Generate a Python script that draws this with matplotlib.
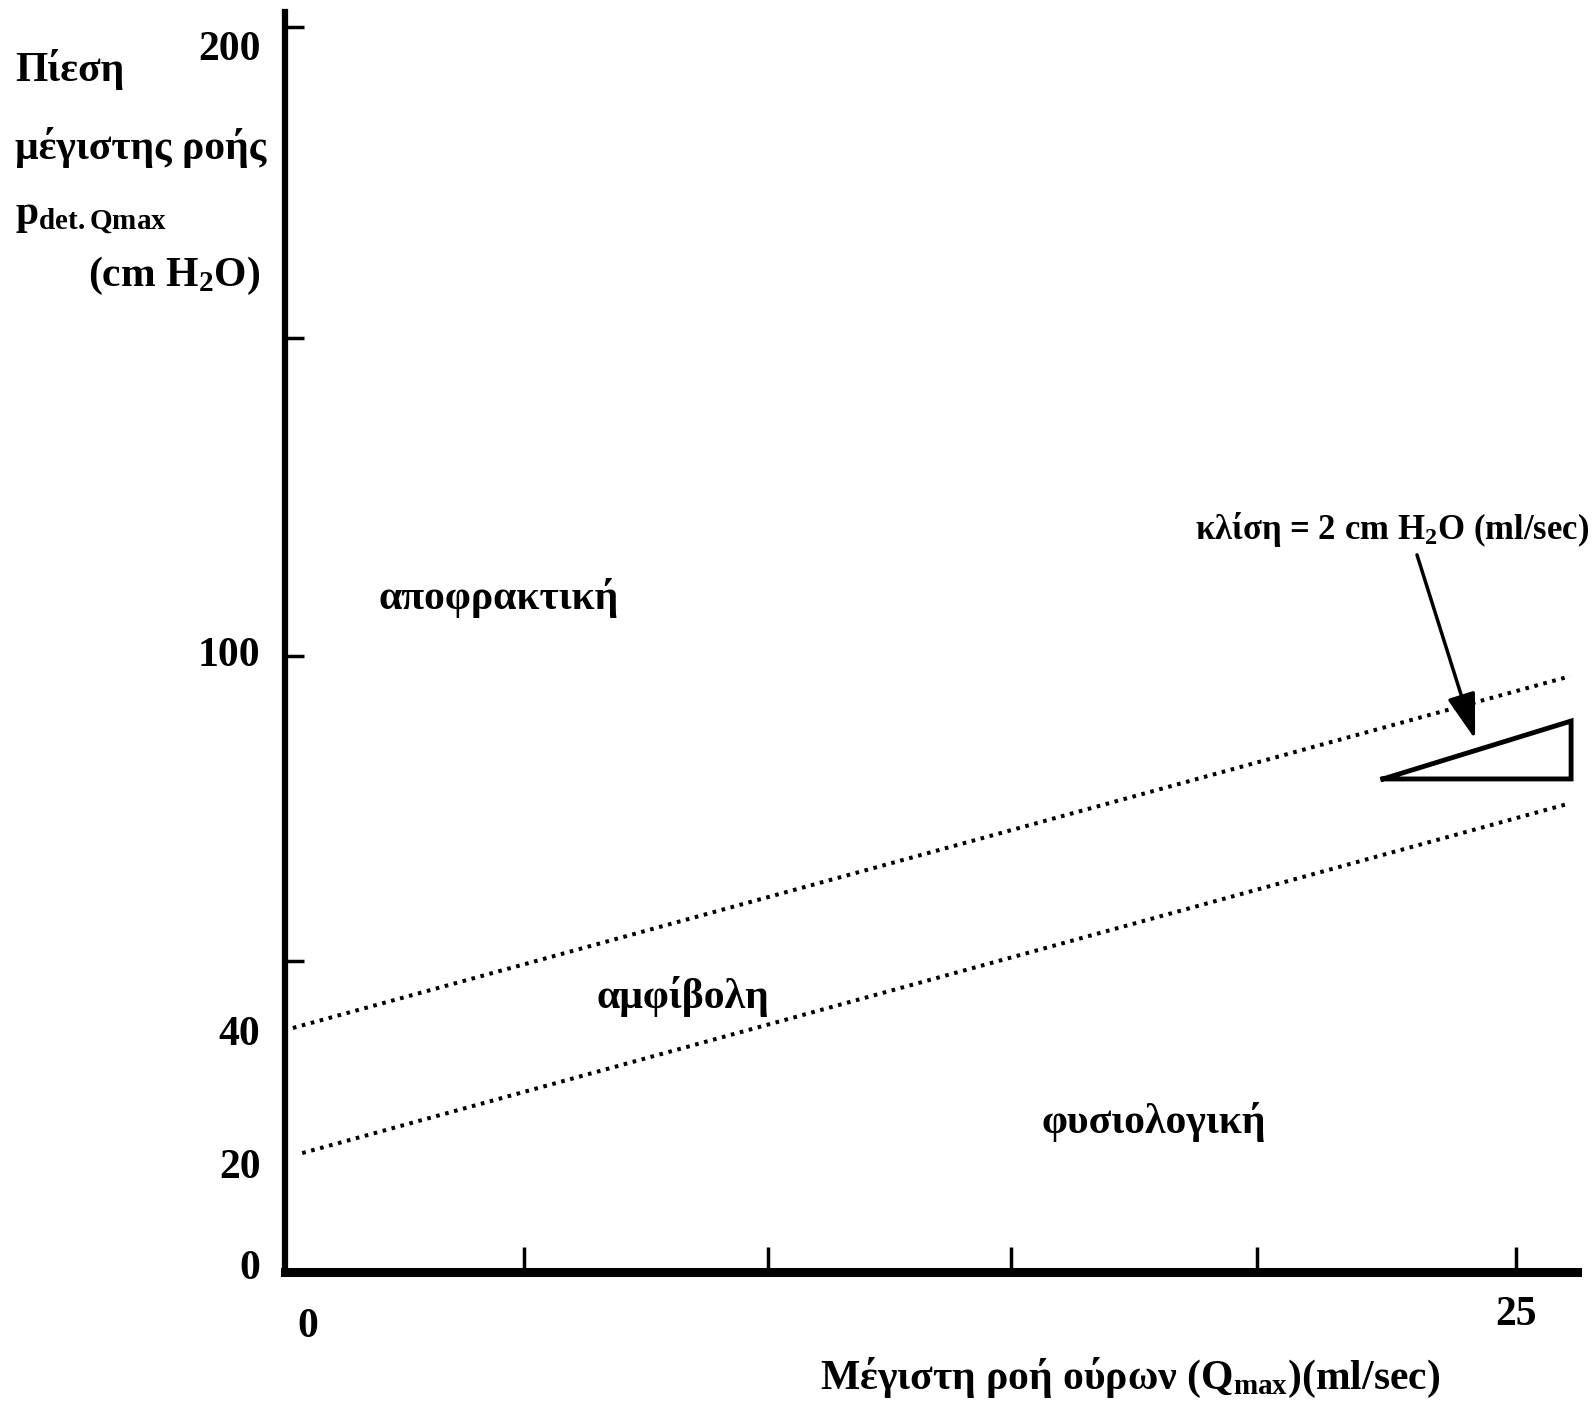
import matplotlib
matplotlib.use("Agg")
import matplotlib.pyplot as plt

plt.rcParams["font.family"] = ["Liberation Serif", "DejaVu Serif"]
plt.rcParams["font.weight"] = "bold"
plt.rcParams["mathtext.fontset"] = "custom"
plt.rcParams["mathtext.rm"] = "Liberation Serif:bold"
plt.rcParams["mathtext.it"] = "Liberation Serif:italic:bold"
plt.rcParams["mathtext.bf"] = "Liberation Serif:bold"

# nomogram boundaries (Qmax in ml/sec, pressure in cm H2O)
upper_x = [0.16, 26.1]
upper_y = [39.2, 95.7]
lower_x = [0.35, 26.1]
lower_y = [19.1, 75.3]

# slope triangle
tri_x = [22.3, 26.12, 26.12, 22.3]
tri_y = [79.2, 79.2, 88.5, 79.2]

x_ticks = [4.85, 9.8, 14.75, 19.75, 25]
y_ticks = [50, 99, 150, 200]

y_labels = ["200", "100", "40", "20", "0"]
y_label_pos = [196.3, 99.0, 38.0, 16.7, 0.5]
x_labels = ["0", "25"]
x_label_pos = [0.47, 25.0]
x_label_off = [-8.8, -6.9]

regions = ["αποφρακτική", "αμφίβολη", "φυσιολογική"]
region_x = [4.33, 8.08, 17.65]
region_y = [108.3, 44.2, 24.1]

W, H = 1595, 1414
fig = plt.figure(figsize=(W / 100, H / 100), dpi=100)
ax = fig.add_axes([285 / W, 142 / H, 1292 / W, 1260 / H])
ax.set_xlim(0, 26.24)
ax.set_ylim(0, 202.4)

for s in ["top", "right"]:
    ax.spines[s].set_visible(False)
ax.spines["bottom"].set_linewidth(6.5)
ax.spines["left"].set_linewidth(4.5)

ax.set_xticks(x_ticks)
ax.set_yticks(y_ticks)
ax.set_xticklabels([])
ax.set_yticklabels([])
ax.tick_params(axis="x", direction="in", length=18, width=2.5)
ax.tick_params(axis="y", direction="in", length=14, width=2.5)

ax.plot(upper_x, upper_y, color="black", lw=2.9, linestyle=(0, (0.9, 1.4)))
ax.plot(lower_x, lower_y, color="black", lw=2.9, linestyle=(0, (0.9, 1.4)))
ax.plot(tri_x, tri_y, color="black", lw=3.5, solid_joinstyle="miter")

ax.annotate("", xy=(24.17, 85.6), xytext=(22.99, 115.2),
            arrowprops=dict(arrowstyle="-|>,head_length=0.8,head_width=0.25",
                            color="black", lw=2.5,
                            mutation_scale=35, shrinkA=0, shrinkB=0))
ax.text(22.48, 119.2, "κλίση = 2 cm H$_2$O (ml/sec)", fontsize=25,
        ha="center", va="center", clip_on=False)

for lab, yv in zip(y_labels, y_label_pos):
    ax.text(-0.5, yv, lab, fontsize=30, ha="right", va="center", clip_on=False)
for lab, xv, off in zip(x_labels, x_label_pos, x_label_off):
    ax.text(xv, off, lab, fontsize=30, ha="center", va="center", clip_on=False)

for lab, xv, yv in zip(regions, region_x, region_y):
    ax.text(xv, yv, lab, fontsize=30, ha="center", va="center")

fig.text(15 / W, 1 - 70 / H, "Πίεση", fontsize=30, ha="left", va="center")
fig.text(15 / W, 1 - 148 / H, "μέγιστης ροής", fontsize=30, ha="left", va="center")
fig.text(15 / W, 1 - 217 / H, "p$_{\\mathrm{det.Qmax}}$", fontsize=30, ha="left", va="center")
fig.text(88 / W, 1 - 276 / H, "(cm H$_2$O)", fontsize=30, ha="left", va="center")

fig.text(1130 / W, 1 - 1378 / H, "Μέγιστη ροή ούρων (Q$_{\\mathrm{max}}$)(ml/sec)",
         fontsize=30, ha="center", va="center")

fig.savefig("out.png", dpi=100, facecolor="white")
